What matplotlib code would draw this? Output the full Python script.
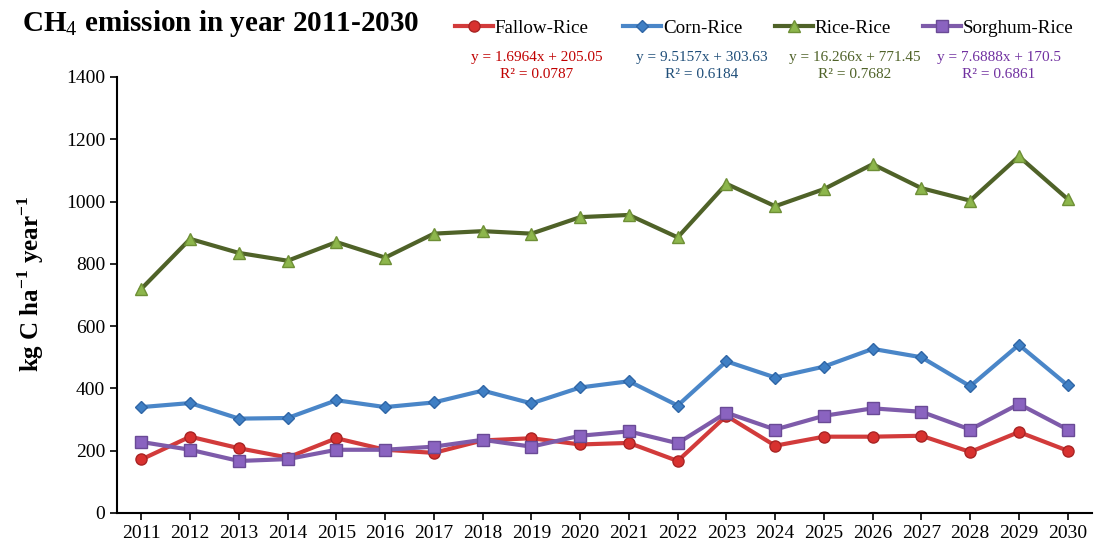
import numpy as np
import matplotlib.pyplot as plt

plt.rcParams['font.family'] = ['Liberation Serif', 'DejaVu Serif']
plt.rcParams['mathtext.fontset'] = 'custom'
plt.rcParams['mathtext.rm'] = 'Liberation Serif'
plt.rcParams['mathtext.bf'] = 'Liberation Serif:bold'

years = list(range(2011, 2031))

fallow_rice = [172, 245, 208, 178, 240, 203, 193, 233, 240, 220,
               225, 167, 312, 216, 245, 245, 248, 196, 260, 200]
corn_rice = [340, 353, 303, 305, 362, 340, 355, 393, 352, 403,
             423, 345, 487, 435, 470, 527, 500, 407, 540, 410]
rice_rice = [720, 880, 835, 810, 870, 820, 897, 905, 897, 950,
             957, 885, 1057, 985, 1040, 1120, 1043, 1003, 1145, 1008]
sorghum_rice = [228, 203, 167, 173, 203, 203, 213, 235, 213, 248,
                262, 224, 322, 268, 312, 336, 325, 268, 350, 268]

series_names = ['Fallow-Rice', 'Corn-Rice', 'Rice-Rice', 'Sorghum-Rice']
equations = ['y = 1.6964x + 205.05\nR² = 0.0787',
             'y = 9.5157x + 303.63\nR² = 0.6184',
             'y = 16.266x + 771.45\nR² = 0.7682',
             'y = 7.6888x + 170.5\nR² = 0.6861']

fig = plt.figure(figsize=(10.96, 5.48), dpi=100)
ax = fig.add_axes([0.1068, 0.0639, 0.8896, 0.7956])

styles = [
    dict(color='#D23B3B', marker='o', mfc='#D8312F', mec='#A82424', ms=8),
    dict(color='#4A86C8', marker='D', mfc='#3F7FC4', mec='#2F66A6', ms=6.5),
    dict(color='#4F6228', marker='^', mfc='#8DB64C', mec='#6E8F36', ms=9),
    dict(color='#7E5BAA', marker='s', mfc='#8A63C0', mec='#6A4A96', ms=8),
]
data = [fallow_rice, corn_rice, rice_rice, sorghum_rice]
lines = []
for name, vals, st in zip(series_names, data, styles):
    ln, = ax.plot(years, vals, lw=3, label=name, **st)
    lines.append(ln)

ax.set_xlim(2010.5, 2030.5)
ax.set_ylim(0, 1400)
ax.set_xticks(years)
ax.set_yticks(np.arange(0, 1401, 200))
ax.tick_params(axis='both', labelsize=14, direction='out', length=5, width=1.2)
ax.spines['top'].set_visible(False)
ax.spines['right'].set_visible(False)
ax.spines['left'].set_linewidth(1.5)
ax.spines['bottom'].set_linewidth(1.5)
ax.set_ylabel('kg C ha$^{\\mathregular{-1}}$ year$^{\\mathregular{-1}}$',
              fontsize=18, fontweight='bold')
ax.yaxis.set_label_coords(-0.073, 0.525)

fig.text(0.02, 0.958, 'CH$_4$ emission in year 2011-2030', fontsize=21,
         fontweight='bold', va='center', ha='left')

# one legend per entry so the spacing follows the reference
leg_x = [455, 623, 775, 923]
for ln, x in zip(lines, leg_x):
    fig.legend(handles=[ln], loc='center left',
               bbox_to_anchor=(x / 1096, 1 - 28 / 548), frameon=False,
               fontsize=13.7, handlelength=2.0, handletextpad=0.1,
               borderpad=0, borderaxespad=0)

eq_colors = ['#C00000', '#1F4E79', '#4F6228', '#7030A0']
eq_x = [537, 702, 855, 999]
for txt, c, x in zip(equations, eq_colors, eq_x):
    fig.text(x / 1096, 1 - 66 / 548, txt, color=c, fontsize=11,
             ha='center', va='center', linespacing=1.35, multialignment='center')

fig.savefig('out.png', dpi=100)
